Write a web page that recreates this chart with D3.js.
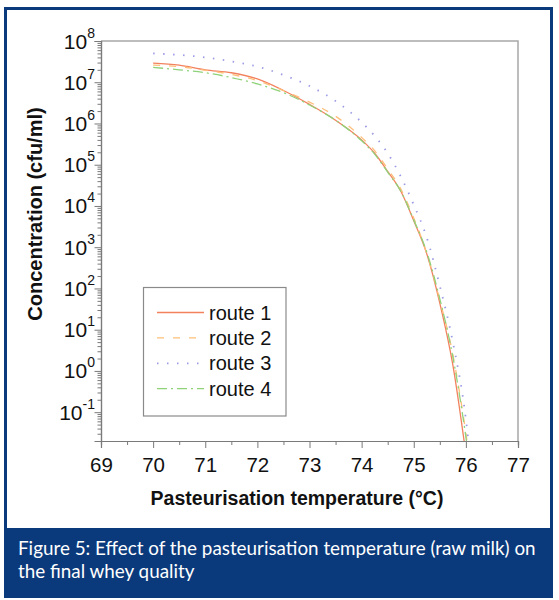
<!DOCTYPE html>
<html>
<head>
<meta charset="utf-8">
<script src="https://cdn.jsdelivr.net/npm/d3@7"></script>
<style>
  html, body { margin: 0; padding: 0; background: #ffffff; }
  svg { display: block; }
</style>
</head>
<body>
<svg id="chart" width="559" height="600"></svg>
<script>
// ---------------- DATA ----------------
const temperatures = [70, 70.5, 71, 71.5, 72, 72.5, 73, 73.5, 74, 74.25, 74.5, 74.75, 75, 75.25, 75.5, 75.75, 76, 76.1];
const route1 = [2.9e7, 2.6e7, 2.0e7, 1.7e7, 1.2e7, 6.3e6, 2.9e6, 1.2e6, 4.0e5, 1.9e5, 6.9e4, 2.3e4, 4.4e3, 690, 44, 1.4, 0.01, 0.0013];
const route2 = [2.6e7, 2.4e7, 1.95e7, 1.55e7, 1.1e7, 6.3e6, 3.3e6, 1.5e6, 4.6e5, 2.2e5, 7.9e4, 2.6e4, 5.1e3, 710, 52, 2.5, 0.031, 0.004];
const route3 = [5.0e7, 4.6e7, 4.0e7, 3.2e7, 2.4e7, 1.5e7, 8.1e6, 3.5e6, 1.07e6, 5.0e5, 1.9e5, 5.2e4, 1.07e4, 1.7e3, 115, 5.0, 0.068, 0.005];
const route4 = [2.3e7, 2.0e7, 1.7e7, 1.3e7, 9.1e6, 5.6e6, 2.8e6, 1.2e6, 3.8e5, 1.8e5, 6.6e4, 2.3e4, 4.6e3, 760, 56, 2.2, 0.025, 0.003];
const seriesNames = ["route 1", "route 2", "route 3", "route 4"];
const xTickValues = [69, 70, 71, 72, 73, 74, 75, 76, 77];
const yTickExponents = [-1, 0, 1, 2, 3, 4, 5, 6, 7, 8];
const xTitle = "Pasteurisation temperature (\u00B0C)";
const yTitle = "Concentration (cfu/ml)";
const captionLines = ["Figure 5: Effect of the pasteurisation temperature (raw milk) on", "the final whey quality"];

// ---------------- STYLE ----------------
const styles = [
  { color: "#f2825e", dash: null },
  { color: "#ffbf7a", dash: "7,9" },
  { color: "#9c9ce6", dash: "1.5,8.5" },
  { color: "#8fd27a", dash: "10,4,2,4" }
];
const blue = "#0b3a7c";
const axisFont = "'Liberation Sans', Arial, Helvetica, sans-serif";

const svg = d3.select("#chart");

// frame + caption band
svg.append("rect").attr("x", 4).attr("y", 528).attr("width", 549).attr("height", 70).attr("fill", blue);
svg.append("rect").attr("x", 5.5).attr("y", 8.5).attr("width", 546).attr("height", 588)
  .attr("fill", "none").attr("stroke", blue).attr("stroke-width", 3);

const plot = { left: 101, right: 518, top: 41, bottom: 441 };
const x = d3.scaleLinear().domain([69, 77]).range([plot.left, plot.right]);
const y = d3.scaleLog().domain([0.02, 1e8]).range([plot.bottom, plot.top]);

// clip
svg.append("defs").append("clipPath").attr("id", "clip")
  .append("rect").attr("x", plot.left).attr("y", plot.top)
  .attr("width", plot.right - plot.left).attr("height", plot.bottom - plot.top);

// top/right frame of plot
svg.append("path")
  .attr("d", `M${plot.left},${plot.top}H${plot.right}V${plot.bottom}`)
  .attr("fill", "none").attr("stroke", "#a8a8a8").attr("stroke-width", 1.5);

// ---------------- Y AXIS ----------------
const majorY = yTickExponents.map(e => Math.pow(10, e));
const minorY = [];
for (let e = -2; e <= 7; e++) for (let k = 2; k <= 9; k++) {
  const v = k * Math.pow(10, e);
  if (v >= 0.02 && v <= 1e8) minorY.push(v);
}
const yAxisMinor = svg.append("g").attr("transform", `translate(${plot.left},0)`)
  .call(d3.axisLeft(y).tickValues(minorY).tickSize(3.5).tickFormat(""));
const yAxisMajor = svg.append("g").attr("transform", `translate(${plot.left},0)`)
  .call(d3.axisLeft(y).tickValues(majorY).tickSize(6.5).tickFormat(""));
[yAxisMinor, yAxisMajor].forEach(g => {
  g.selectAll("path").attr("stroke", "#7a7a7a").attr("stroke-width", 1.2);
  g.selectAll("line").attr("stroke", "#7a7a7a").attr("stroke-width", 1);
});
// y labels with superscript
const yLab = svg.append("g");
yTickExponents.forEach(e => {
  const t = yLab.append("text")
    .attr("x", 95).attr("y", y(Math.pow(10, e)) + 7.5)
    .attr("text-anchor", "end")
    .attr("font-family", axisFont).attr("font-size", 21).attr("fill", "#111");
  t.append("tspan").text("10");
  t.append("tspan").attr("dy", -11).attr("font-size", 14).text(String(e));
});

// ---------------- X AXIS ----------------
const minorX = d3.range(69.5, 77, 1);
const xAxisMinor = svg.append("g").attr("transform", `translate(0,${plot.bottom})`)
  .call(d3.axisBottom(x).tickValues(minorX).tickSize(4).tickFormat(""));
const xAxisMajor = svg.append("g").attr("transform", `translate(0,${plot.bottom})`)
  .call(d3.axisBottom(x).tickValues(xTickValues).tickSize(7).tickPadding(8).tickFormat(d3.format("d")));
[xAxisMinor, xAxisMajor].forEach(g => {
  g.selectAll("path").attr("stroke", "#7a7a7a").attr("stroke-width", 1.2);
  g.selectAll("line").attr("stroke", "#7a7a7a").attr("stroke-width", 1);
});
xAxisMajor.selectAll("text").attr("font-family", axisFont).attr("font-size", 20.5).attr("fill", "#111")
  .attr("dy", null).attr("y", 31);

// titles
svg.append("text").attr("x", 297).attr("y", 505).attr("text-anchor", "middle")
  .attr("font-family", axisFont).attr("font-weight", "bold").attr("font-size", 19.5).attr("fill", "#111")
  .text(xTitle);
svg.append("text").attr("transform", "translate(41.5,214) rotate(-90)").attr("text-anchor", "middle")
  .attr("font-family", axisFont).attr("font-weight", "bold").attr("font-size", 20).attr("fill", "#111")
  .text(yTitle);

// ---------------- LINES ----------------
const allSeries = [route1, route2, route3, route4];
const line = d3.line().x(d => x(d[0])).y(d => y(d[1])).curve(d3.curveMonotoneX);
const lines = svg.append("g").attr("clip-path", "url(#clip)");
allSeries.forEach((vals, i) => {
  const pts = temperatures.map((t, j) => [t, vals[j]]);
  lines.append("path").datum(pts).attr("d", line)
    .attr("fill", "none").attr("stroke", styles[i].color)
    .attr("stroke-width", i === 2 ? 1.8 : 1.3)
    .attr("stroke-dasharray", styles[i].dash);
});

// ---------------- LEGEND ----------------
const leg = svg.append("g");
leg.append("rect").attr("x", 143.5).attr("y", 287.5).attr("width", 142.5).attr("height", 128.5)
  .attr("fill", "#fff").attr("stroke", "#8a8a8a").attr("stroke-width", 1.2);
seriesNames.forEach((name, i) => {
  const cy = 312.5 + i * 25.4;
  leg.append("line").attr("x1", 157).attr("x2", 204).attr("y1", cy).attr("y2", cy)
    .attr("stroke", styles[i].color).attr("stroke-width", i === 2 ? 1.8 : 1.3)
    .attr("stroke-dasharray", styles[i].dash);
  leg.append("text").attr("x", 209).attr("y", cy + 7)
    .attr("font-family", axisFont).attr("font-size", 20).attr("fill", "#111").text(name);
});

// ---------------- CAPTION ----------------
const capFont = "Lato, 'Open Sans', sans-serif";
const cap1 = svg.append("text").attr("x", 18).attr("y", 555)
  .attr("font-family", capFont).attr("font-size", 17).attr("fill", "#fff").text(captionLines[0]);
const w = cap1.node().getComputedTextLength();
const fs = 17 * 518 / w;
cap1.attr("font-size", fs);
svg.append("text").attr("x", 18).attr("y", 578)
  .attr("font-family", capFont).attr("font-size", fs).attr("fill", "#fff").text(captionLines[1]);
</script>
</body>
</html>
